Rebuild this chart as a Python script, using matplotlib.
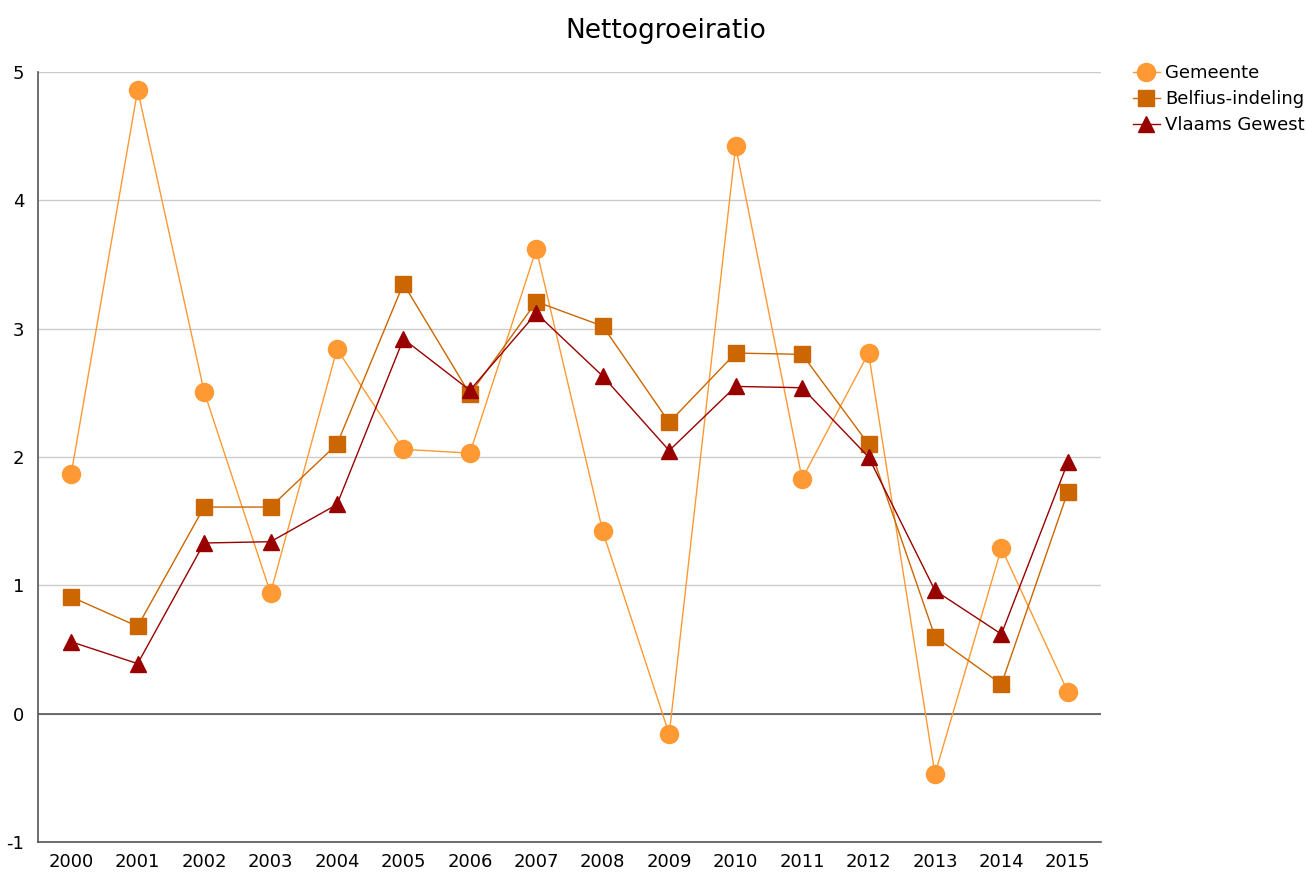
import numpy as np
import matplotlib.pyplot as plt

plt.rcParams['axes.unicode_minus'] = False

# Nettogroeiratio per jaar
jaren = ['2000', '2001', '2002', '2003', '2004', '2005', '2006', '2007',
         '2008', '2009', '2010', '2011', '2012', '2013', '2014', '2015']
gemeente = [1.87, 4.86, 2.51, 0.94, 2.84, 2.06, 2.03, 3.62,
            1.42, -0.16, 4.42, 1.83, 2.81, -0.47, 1.29, 0.17]
belfius = [0.91, 0.68, 1.61, 1.61, 2.10, 3.35, 2.49, 3.21,
           3.02, 2.27, 2.81, 2.80, 2.10, 0.60, 0.23, 1.73]
vlaams = [0.56, 0.39, 1.33, 1.34, 1.63, 2.92, 2.52, 3.12,
          2.63, 2.05, 2.55, 2.54, 2.00, 0.96, 0.62, 1.96]

x = np.arange(len(jaren))

fig = plt.figure(figsize=(13.06, 8.75), dpi=100)
ax = fig.add_axes([0.0291, 0.0377, 0.814, 0.88])

ax.plot(x, gemeente, color='#ff9933', lw=1, marker='o', ms=13, label='Gemeente', zorder=3)
ax.plot(x, belfius, color='#cc6600', lw=1, marker='s', ms=11.5, label='Belfius-indeling', zorder=4)
ax.plot(x, vlaams, color='#990000', lw=1, marker='^', ms=11, label='Vlaams Gewest', zorder=5)

ax.set_xlim(-0.5, len(jaren) - 0.5)
ax.set_ylim(-1, 5)
ax.set_xticks(x)
ax.set_xticklabels(jaren)
ax.set_yticks(range(-1, 6))
ax.tick_params(length=0, labelsize=13, pad=8)
ax.tick_params(axis='y', pad=10)

# horizontale rasterlijnen, nullijn donkerder
ax.grid(axis='y', color='#cccccc', lw=1)
ax.axhline(0, color='#555555', lw=1.2, zorder=2)
ax.set_axisbelow(True)
for side in ['top', 'right']:
    ax.spines[side].set_visible(False)
for side in ['left', 'bottom']:
    ax.spines[side].set_color('#555555')
    ax.spines[side].set_linewidth(1.2)

fig.text(0.51, 0.965, 'Nettogroeiratio', fontsize=19, ha='center', va='center')
fig.legend(loc='upper left', bbox_to_anchor=(0.8675, 0.927), frameon=False,
           fontsize=13, handlelength=1.5, handletextpad=0.3, labelspacing=0.45,
           borderaxespad=0, borderpad=0)

fig.savefig('out.png', dpi=100)
